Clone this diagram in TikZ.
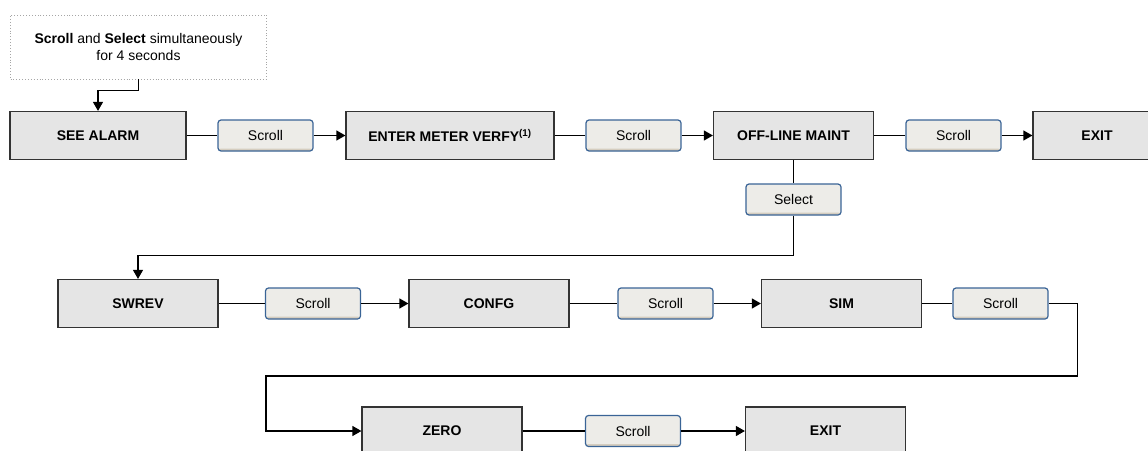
\documentclass[tikz,border=0pt]{standalone}
\usepackage{fontspec}
\setmainfont{Liberation Sans}
\usetikzlibrary{arrows.meta,positioning}
\definecolor{boxfill}{HTML}{E5E5E5}
\definecolor{boxline}{HTML}{333333}
\definecolor{btnfill}{HTML}{EDECE8}
\definecolor{btnline}{HTML}{3A6496}
\definecolor{btnshade}{HTML}{D5CDBF}
\tikzset{
  statebox/.style={draw=boxline, fill=boxfill, line width=1.2pt, minimum height=48pt,
    inner sep=0pt, font=\fontsize{14}{17}\selectfont\bfseries},
  keybtn/.style={draw=btnline, fill=btnfill, line width=1.2pt, rounded corners=3pt,
    minimum width=95pt, minimum height=31pt, inner sep=0pt, font=\fontsize{14}{17}\selectfont,
    path picture={\fill[btnshade] (path picture bounding box.south west) rectangle
      ([yshift=2.5pt]path picture bounding box.south east);}},
  hintbox/.style={draw=gray!70, dotted, line width=0.9pt, minimum width=256pt, minimum height=64pt,
    align=center, font=\fontsize{14}{17}\selectfont},
  flow/.style={-{Triangle[length=9pt,width=10pt]}, line width=1.2pt},
  link/.style={line width=1.2pt}
}
\begin{document}
\begin{tikzpicture}[x=1pt, y=-1pt]
  \useasboundingbox (0,0) rectangle (1148,450);
  % hint
  \node[hintbox] (hint) at (138.5,47) {\textbf{Scroll} and \textbf{Select} simultaneously\\for 4 seconds};
  % first row
  \node[statebox, minimum width=176pt] (seealarm) at (98,135.5) {SEE ALARM};
  \node[keybtn] (scrollA) at (265.5,135.5) {Scroll};
  \node[statebox, minimum width=208pt] (enter) at (450,135.5) {ENTER METER VERFY\textsuperscript{(1)}};
  \node[keybtn] (scrollB) at (633.5,135.5) {Scroll};
  \node[statebox, minimum width=160pt] (offline) at (793.5,135.5) {OFF-LINE MAINT};
  \node[keybtn] (scrollC) at (953.5,135.5) {Scroll};
  \node[statebox, minimum width=128pt] (exitA) at (1097,135.5) {EXIT};
  \node[keybtn] (select) at (793.5,199.5) {Select};
  % second row
  \node[statebox, minimum width=160pt] (swrev) at (138,303.5) {SWREV};
  \node[keybtn] (scrollD) at (313,303.5) {Scroll};
  \node[statebox, minimum width=160pt] (confg) at (489,303.5) {CONFG};
  \node[keybtn] (scrollE) at (665.5,303.5) {Scroll};
  \node[statebox, minimum width=160pt] (sim) at (841.5,303.5) {SIM};
  \node[keybtn] (scrollF) at (1000.5,303.5) {Scroll};
  % third row
  \node[statebox, minimum width=160pt] (zero) at (442,431) {ZERO};
  \node[keybtn] (scrollG) at (633,431) {Scroll};
  \node[statebox, minimum width=160pt] (exitB) at (825.5,431) {EXIT};
  \coordinate (wrapR) at (1077.5,376);
  \coordinate (wrapL) at (266,376);
  % connectors
  \draw[flow] (hint.south) -- ++(0,11) -| (seealarm.north);
  \draw[link] (seealarm) -- (scrollA);
  \draw[flow] (scrollA) -- (enter);
  \draw[link] (enter) -- (scrollB);
  \draw[flow] (scrollB) -- (offline);
  \draw[link] (offline) -- (scrollC);
  \draw[flow] (scrollC) -- (exitA);
  \draw[link] (offline) -- (select);
  \draw[flow] (select.south) -- ++(0,40) -| (swrev.north);
  \draw[link] (swrev) -- (scrollD);
  \draw[flow] (scrollD) -- (confg);
  \draw[link] (confg) -- (scrollE);
  \draw[flow] (scrollE) -- (sim);
  \draw[link] (sim) -- (scrollF);
  \draw[flow] (scrollF.east) -| (wrapR) -- (wrapL) |- (zero.west);
  \draw[link] (zero) -- (scrollG);
  \draw[flow] (scrollG) -- (exitB);
\end{tikzpicture}
\end{document}
